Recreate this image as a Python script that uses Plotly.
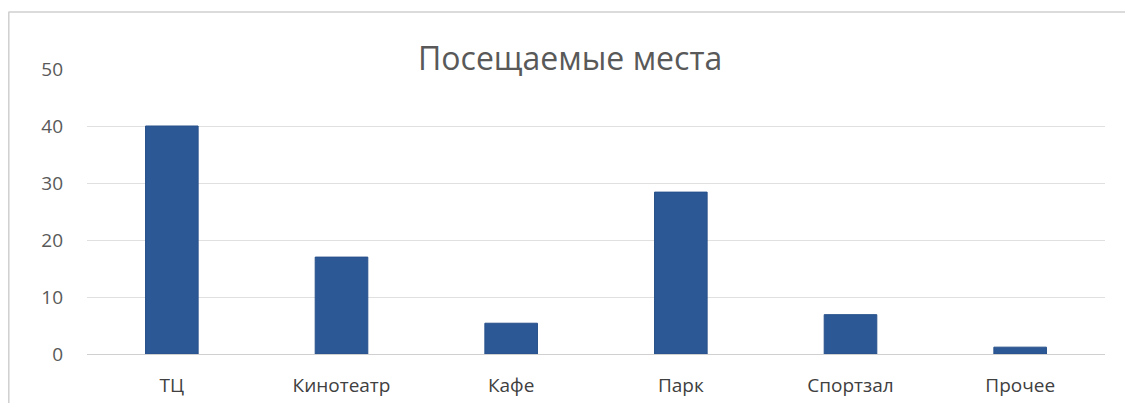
import plotly.graph_objects as go

categories = ["ТЦ", "Кинотеатр", "Кафе", "Парк", "Спортзал", "Прочее"]
values = [40, 17, 5.4, 28.4, 6.9, 1.2]
y_ticks = [0, 10, 20, 30, 40, 50]
title_text = "Посещаемые места"

W, H = 1125, 395
L, R, T, B = 79, 28, 61, 49
PW, PH = W - L - R, H - T - B


def px(x):
    return (x - L) / PW


def py(y):
    return (H - B - y) / PH


fig = go.Figure(go.Bar(
    x=categories, y=values,
    marker=dict(color="#2D5896", line=dict(color="#27508A", width=1)),
    width=0.31,
))

fig.update_layout(
    width=W, height=H,
    margin=dict(l=L, r=R, t=T, b=B, autoexpand=False),
    paper_bgcolor="white", plot_bgcolor="white",
    showlegend=False,
    font=dict(family="Open Sans, DejaVu Sans, sans-serif", color="#595959"),
    xaxis=dict(showgrid=False, showline=True, linecolor="#d0d0d0", linewidth=1,
               automargin=False,
               tickfont=dict(size=19, color="#404040"), ticks="", ticklabelstandoff=14),
    yaxis=dict(range=[0, 50], tickvals=y_ticks, showgrid=True, gridcolor="#e0e0e0",
               gridwidth=1, zeroline=False, showline=False, automargin=False,
               tickfont=dict(size=19, color="#595959"), ticks="", ticklabelstandoff=23),
    annotations=[dict(text=title_text, xref="paper", yref="paper", x=px(562), y=py(49),
                      xanchor="center", yanchor="middle", showarrow=False,
                      bgcolor="white", borderpad=4,
                      font=dict(size=32, color="#595959"))],
    shapes=[
        dict(type="line", xref="paper", yref="paper",
             x0=px(0.5), x1=px(1120), y0=py(4), y1=py(4),
             line=dict(color="#cfcfcf", width=1.5)),
        dict(type="line", xref="paper", yref="paper",
             x0=px(0.8), x1=px(0.8), y0=py(4), y1=py(H),
             line=dict(color="#cfcfcf", width=1.5)),
        dict(type="line", xref="paper", yref="paper",
             x0=px(1120), x1=px(1120), y0=py(4), y1=py(H),
             line=dict(color="#ececec", width=1)),
    ],
)

fig.write_html("out.html")
